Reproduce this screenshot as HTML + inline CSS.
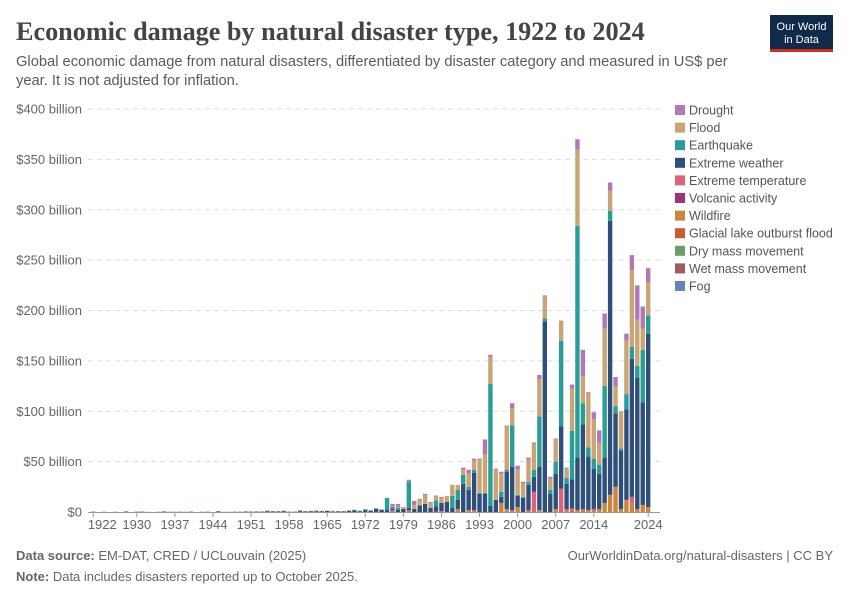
<!DOCTYPE html>
<html><head><meta charset="utf-8">
<style>
body{margin:0;background:#fff;width:850px;height:600px;overflow:hidden;font-family:"Liberation Sans",sans-serif;}
svg{display:block}
</style></head>
<body>
<svg id="chart" width="850" height="600">
<text x="16" y="40" font-family="Liberation Serif,serif" font-weight="bold" font-size="26.2" fill="#444">Economic damage by natural disaster type, 1922 to 2024</text>
<text x="16" y="66" font-size="14.7" fill="#5b5b5b">Global economic damage from natural disasters, differentiated by disaster category and measured in US$ per</text>
<text x="16" y="85" font-size="14.7" fill="#5b5b5b">year. It is not adjusted for inflation.</text>
<g>
<rect x="770" y="15" width="63" height="35" fill="#0f2a4a"/>
<rect x="770" y="49" width="63" height="3" fill="#d42b21"/>
<text x="801.5" y="30" text-anchor="middle" font-size="11" fill="#fff">Our World</text>
<text x="801.5" y="43" text-anchor="middle" font-size="11" fill="#fff">in Data</text>
</g>
<g id="grid"></g><g id="bars"></g><g id="xaxis"></g><g id="legend"></g>
<text x="16" y="560" font-size="13" fill="#666"><tspan font-weight="bold">Data source:</tspan> EM-DAT, CRED / UCLouvain (2025)</text>
<text x="833" y="560" text-anchor="end" font-size="13" fill="#666">OurWorldinData.org/natural-disasters | CC BY</text>
<text x="16" y="581" font-size="13" fill="#666"><tspan font-weight="bold">Note:</tspan> Data includes disasters reported up to October 2025.</text>
</svg>
<script>
const years = [];
for (let y = 1922; y <= 2024; y++) years.push(y);
const yTicks = [0,50,100,150,200,250,300,350,400];
const yTickLabels = ["$0","$50 billion","$100 billion","$150 billion","$200 billion","$250 billion","$300 billion","$350 billion","$400 billion"];
const xTickYears = [1922,1930,1937,1944,1951,1958,1965,1972,1979,1986,1993,2000,2007,2014,2024];
const seriesNames = ["Fog","Wet mass movement","Dry mass movement","Glacial lake outburst flood","Wildfire","Volcanic activity","Extreme temperature","Extreme weather","Earthquake","Flood","Drought"];
const seriesColors = ["#6883b7","#a05a5a","#6d9a66","#c95b35","#cc8541","#a2307f","#e0607a","#2f4f7a","#2a9d96","#c9a575","#b278b6"];
const fog = Array(103).fill(0);
const wetMass = [0,0,0,0,0,0,0,0,0,0,0,0,0,0,0,0,0,0,0,0,0,0,0,0,0,0,0,0,0,0,0,0,0,0,0,0,
0,0,0,0,0,0,0,0,0,0,0,0,0,0,0,0,0,0,0,0,0,0,0,0,0,0,0,0.5,
0,0,0,0,0,0,0,0,0,0,0,0,0,0,0,0,0,0,0,0,0,0,
0,0,0.5,0,0,0,0,0,0,0,0,0,0,0,0,0,0];
const dryMass = Array(103).fill(0);
const glacial = Array(103).fill(0);
const wildfire = [0,0,0,0,0,0,0,0,0,0,0,0,0,0,0,0,0,0,0,0,0,0,0,0,0,0,0,0,0,0,0,0,0,0,0,0,
0,0,0,0,0,0,0,0,0,0,0,0,0,0,0,0,0,0,0,0,0,0,0,0,0,0,0,0,
0,0,0,3,0,2,0,0,0,0,0,9,3,0,5,0,0,0,2,0,0,3,
0,1,1,2,1,2,1,3,9,17,25,3,12,9,3,7,5];
const volcanic = Array(103).fill(0);
const extremeTemp = [0,0,0,0,0,0,0,0,0,0,0,0,0,0,0,0,0,0,0,0,0,0,0,0,0,0,0,0,0,0,0,0,0,0,0,0,
0,0,0,0,0,0,0,0,0,0,0,0,0,0,0,0,0,0,0,2,0,0,2,0,0,0,0,0,
1,0,0,0,0,0,2,0,0,0,0,0,0,2,0,0,2,20,0,0,0,0,
23,2,2,0,2,0,2,0,0,0,0,0,0,6,0,0,0];
const extremeWeather = [0.3,0,0,0,0.2,0,0.5,0,0.2,0.3,0,0,0.2,0.5,0.2,0,0.3,0.2,0.3,0,0.2,0.3,0,0.5,0,0.2,0.3,0.2,0.5,0.3,0.5,0.4,0.8,0.6,0.5,0.8,
0.4,0.3,0.5,0.6,0.8,0.5,0.6,1,0.4,0.6,0.6,1.2,1.5,0.8,1.5,1.2,3,2,2,1,2,3,2,3,6,8,4,5,
8,10,4,9,28,20,37,18,18,6,12,6,37,43,11,14,25,15,43,189,18,35,
62,25,29,52,84,53,40,35,45,272,73,58,90,137,130,102,172];
const earthquake = [0,0,0.3,0,0,0,0,0,0,0.2,0,0,0,0,0,0.3,0,0,0.2,0,0,0,0,0.3,0,0,0,0,0,0,0,0,0.3,0,0,0.2,
0,0,1,0,0.2,0.8,0.3,0,0,0,0.2,0,0.5,0.3,1.2,0.3,0,0,12,2,2,0,26,0,1,0,0,6,
0,0,12,10,9,3,3,1,1,121,0,5,2,41,1,1,3,7,50,3,4,12,
85,6,48,230,21,9,10,9,71,10,7,2,15,12,12,52,18];
const flood = [0,0,0,0,0,0,0.2,0,0.5,0,0.3,0,0,0,0,0,0.2,0,0,0,0,0,0,0,0.3,0,0,0.3,0,0.5,0,0.3,0.5,0.3,0.4,0.5,
0.2,0,0.2,0.3,0.2,0.2,0.3,0.4,1,0.3,0.2,0.6,0.3,0.3,0.2,0.4,1,0.8,0,1,1,2,0,4,5,9,5,5,
5,6,11,5,5,13,9,33,38,27,30,18,44,17,25,13,22,26,37,22,11,23,
20,9,42,76,27,54,39,22,57,20,20,37,53,76,46,21,33];
const drought = [0,0,0,0,0,0,0,0,0,0,0,0,0,0,0,0,0,0,0,0,0,0,0,0,0,0,0,0,0,0,0,0,0,0,0,0,
0,0,0,0,0,0,0,0,0,0,0,0,0,0,0,0,0,0,0,2,3,0,2,4,1,1,1,0,
1,0,0,0,2,4,2,1,15,2,1,2,0,5,4,2,2,1,4,1,2,0,
0,1,4,10,26,1,7,12,15,8,9,0,7,15,34,22,14];
const series = [fog,wetMass,dryMass,glacial,wildfire,volcanic,extremeTemp,extremeWeather,earthquake,flood,drought];

const NS = "http://www.w3.org/2000/svg";
const plotLeft = 88, plotRight = 660, y0 = 512, yTop = 109;
function yScale(v){ return y0 - v * (y0 - yTop) / 400; }
function xScale(year){ return 93.3 + (year - 1922) * 5.44; }
const barW = 4.4;
function mk(tag, attrs, parent){ const e = document.createElementNS(NS, tag); for (const k in attrs) e.setAttribute(k, attrs[k]); parent.appendChild(e); return e; }

const grid = document.getElementById('grid');
yTicks.forEach((t, i) => {
  const y = yScale(t);
  if (t > 0) {
    const l = mk('line', {x1: plotLeft, x2: plotRight, y1: y, y2: y, stroke: '#ddd', 'stroke-dasharray': '5,4'}, grid);
    
    
  }
  const tx = mk('text', {x: 82, y: y + 4.5, 'text-anchor': 'end', 'font-size': 13, fill: '#666'}, grid);
  tx.textContent = yTickLabels[i];
  
  
});

const bars = document.getElementById('bars');
years.forEach((yr, i) => {
  let acc = 0;
  const x = xScale(yr) - barW / 2;
  series.forEach((s, k) => {
    const v = s[i];
    if (v <= 0) return;
    const yt = yScale(acc + v), yb = yScale(acc);
    const r = mk('rect', {x: x, y: yt, width: barW, height: Math.max(yb - yt, 0.4), fill: seriesColors[k]}, bars);
    
    
    acc += v;
  });
});

const xaxis = document.getElementById('xaxis');
const ax = mk('line', {x1: plotLeft, x2: plotRight, y1: y0 + 0.5, y2: y0 + 0.5, stroke: '#999'}, xaxis);


xTickYears.forEach(yr => {
  const x = xScale(yr);
  const tk = mk('line', {x1: x, x2: x, y1: y0, y2: y0 + 5, stroke: '#999'}, xaxis);
  
  
  const t = mk('text', {x: yr === 1922 ? x + 9 : x, y: 529, 'text-anchor': 'middle', 'font-size': 13, fill: '#666'}, xaxis);
  t.textContent = yr;
  
  
});

const legend = document.getElementById('legend');
for (let j = 0; j < seriesNames.length; j++) {
  const k = seriesNames.length - 1 - j;
  const y = 105 + j * 17.6;
  const g = mk('g', {}, legend);
  
  
  mk('rect', {x: 675, y: y, width: 10, height: 10, fill: seriesColors[k]}, g);
  const t = mk('text', {x: 689, y: y + 9.5, 'font-size': 12.5, fill: '#555'}, g);
  t.textContent = seriesNames[k];
}
</script>
</body></html>
